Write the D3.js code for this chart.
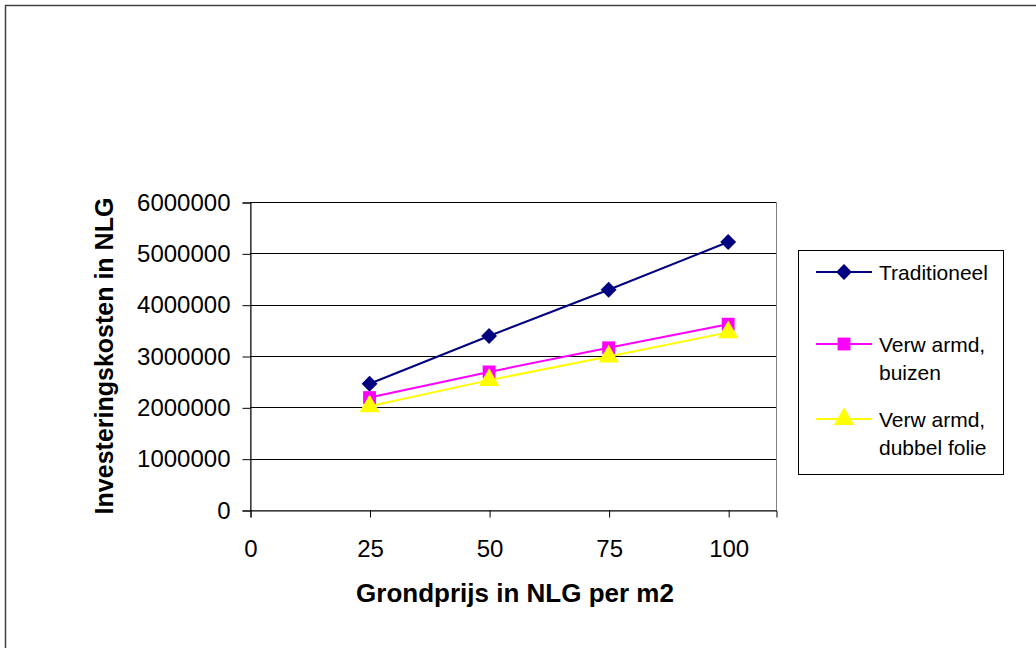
<!DOCTYPE html>
<html>
<head>
<meta charset="utf-8">
<script src="https://cdn.jsdelivr.net/npm/d3@7"></script>
<style>
  html, body { margin: 0; padding: 0; background: #fff; }
  svg { display: block; }
  text { font-family: "Liberation Sans", Arial, sans-serif; fill: #000; }
</style>
</head>
<body>
<svg id="chart" width="1036" height="648"></svg>
<script>
// Land price per m2 (NLG)
const grondprijs = [25, 50, 75, 100];

// Investment costs (NLG) per greenhouse type
const traditioneel = [2460000, 3390000, 4290000, 5220000];
const verwarmdBuizen = [2190000, 2690000, 3160000, 3620000];
const verwarmdFolie = [2020000, 2530000, 2990000, 3460000];

// Axis ticks
const xTicks = [0, 25, 50, 75, 100];
const yTicks = [0, 1000000, 2000000, 3000000, 4000000, 5000000, 6000000];

const seriesNames = [["Traditioneel"], ["Verw armd,", "buizen"], ["Verw armd,", "dubbel folie"]];
const seriesValues = [traditioneel, verwarmdBuizen, verwarmdFolie];
const seriesColors = ["#000080", "#FF00FF", "#FFFF00"];
const seriesSymbols = [d3.symbolDiamond2, d3.symbolSquare, d3.symbolTriangle];
const symbolSizes = [160, 165, 180];

const svg = d3.select("#chart");

// outer chart frame (only top and left edges fall inside the view)
svg.append("rect")
  .attr("x", 5.5).attr("y", 5.5)
  .attr("width", 1100).attr("height", 700)
  .attr("fill", "#fff")
  .attr("stroke", "#404040")
  .attr("stroke-width", 1.5);

const plot = { left: 250, right: 776, top: 202, bottom: 510 };

const x = d3.scaleLinear().domain([0, 110]).range([plot.left, plot.right]);
const y = d3.scaleLinear().domain([0, 6000000]).range([plot.bottom, plot.top]);

// plot area border
svg.append("rect")
  .attr("x", plot.left + 0.5).attr("y", plot.top + 0.5)
  .attr("width", plot.right - plot.left).attr("height", plot.bottom - plot.top)
  .attr("fill", "#fff")
  .attr("stroke", "#808080")
  .attr("stroke-width", 1);

// horizontal gridlines
svg.append("g")
  .selectAll("line")
  .data(yTicks.filter(d => d > 0))
  .join("line")
  .attr("x1", plot.left).attr("x2", plot.right)
  .attr("y1", d => Math.round(y(d)) + 0.5)
  .attr("y2", d => Math.round(y(d)) + 0.5)
  .attr("stroke", "#000")
  .attr("stroke-width", 1);

// y axis
const yAxis = svg.append("g")
  .attr("transform", `translate(${plot.left + 0.5},0.5)`)
  .call(d3.axisLeft(y).tickValues(yTicks).tickFormat(d3.format("d"))
    .tickSize(8).tickSizeOuter(8).tickPadding(12));
yAxis.selectAll("text").style("font-size", "24px").attr("font-family", null);
yAxis.selectAll("line, path").attr("stroke", "#000").attr("stroke-width", 1);

// x axis
const xAxis = svg.append("g")
  .attr("transform", `translate(0.5,${plot.bottom + 0.5})`)
  .call(d3.axisBottom(x).tickValues(xTicks).tickFormat(d3.format("d"))
    .tickSize(7).tickSizeOuter(7).tickPadding(22));
xAxis.selectAll("text").style("font-size", "24px").attr("font-family", null);
xAxis.selectAll("line, path").attr("stroke", "#000").attr("stroke-width", 1);

// axis titles
svg.append("text")
  .attr("x", (plot.left + plot.right) / 2 + 2)
  .attr("y", 602)
  .attr("text-anchor", "middle")
  .style("font-size", "26px")
  .style("font-weight", "bold")
  .text("Grondprijs in NLG per m2");

svg.append("text")
  .attr("transform", `translate(113,${(plot.top + plot.bottom) / 2}) rotate(-90)`)
  .attr("text-anchor", "middle")
  .style("font-size", "25px")
  .style("font-weight", "bold")
  .text("Investeringskosten in NLG");

// series lines and markers
const line = d3.line()
  .x((d, i) => x(grondprijs[i]))
  .y(d => y(d));

seriesValues.forEach((vals, s) => {
  svg.append("path")
    .datum(vals)
    .attr("d", line)
    .attr("fill", "none")
    .attr("stroke", seriesColors[s])
    .attr("stroke-width", 2);
});

seriesValues.forEach((vals, s) => {
  svg.append("g")
    .selectAll("path")
    .data(vals)
    .join("path")
    .attr("transform", (d, i) => `translate(${x(grondprijs[i])},${y(d)})`)
    .attr("d", d3.symbol().type(seriesSymbols[s]).size(symbolSizes[s]))
    .attr("fill", seriesColors[s]);
});

// legend
const legend = svg.append("g");
legend.append("rect")
  .attr("x", 798.5).attr("y", 250.5)
  .attr("width", 205).attr("height", 224)
  .attr("fill", "#fff")
  .attr("stroke", "#000")
  .attr("stroke-width", 1);

const legendRows = [272, 344, 419];
seriesNames.forEach((lines, s) => {
  const cy = legendRows[s];
  legend.append("line")
    .attr("x1", 816).attr("x2", 872)
    .attr("y1", cy).attr("y2", cy)
    .attr("stroke", seriesColors[s])
    .attr("stroke-width", 2);
  legend.append("path")
    .attr("transform", `translate(844,${cy})`)
    .attr("d", d3.symbol().type(seriesSymbols[s]).size(symbolSizes[s]))
    .attr("fill", seriesColors[s]);
  const t = legend.append("text")
    .attr("x", 879)
    .attr("y", cy + 8)
    .style("font-size", "21px");
  lines.forEach((ln, j) => {
    t.append("tspan").attr("x", 879).attr("dy", j === 0 ? 0 : 27.5).text(ln);
  });
});
</script>
</body>
</html>
